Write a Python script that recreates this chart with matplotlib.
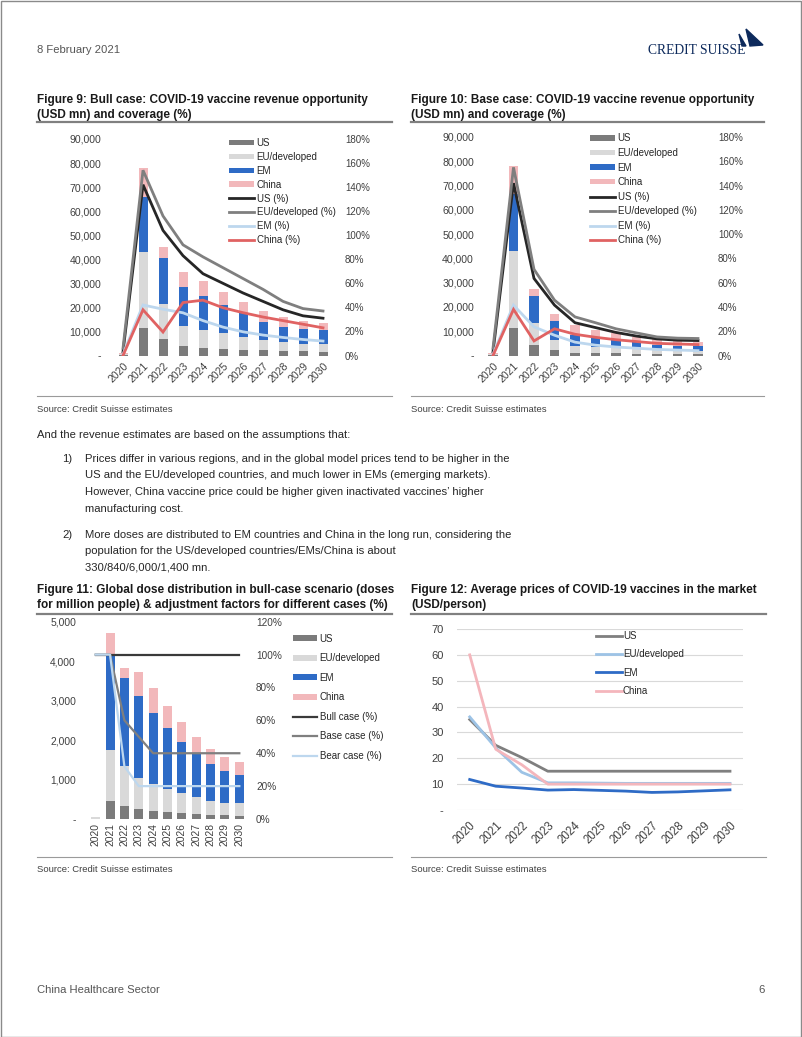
import numpy as np
import matplotlib
matplotlib.use("Agg")
import matplotlib.pyplot as plt
from matplotlib import font_manager
from matplotlib.patches import Rectangle, Polygon
from matplotlib.lines import Line2D
from matplotlib.ticker import FuncFormatter, MultipleLocator

# === DATOS ===
years = [str(y) for y in range(2020, 2031)]
regions = ["US", "EU/developed", "EM", "China"]

# Figure 9: bull case, USD mn
bull_us = [200, 11400, 6900, 4000, 3300, 2800, 2300, 2100, 2000, 1700, 1500]
bull_eu = [300, 31800, 14600, 8200, 7200, 6400, 5200, 4300, 3500, 3100, 3100]
bull_em = [200, 22500, 19200, 16100, 14200, 11900, 10100, 7500, 6400, 6100, 5800]
bull_cn = [300, 12100, 4600, 6300, 6100, 5100, 4500, 4400, 3900, 3500, 3200]
# coverage (%)
bull_us_pct = [3, 142, 104, 83, 68, 60, 52, 45, 38, 33, 31]
bull_eu_pct = [6, 154, 116, 92, 82, 73, 64, 55, 45, 39, 37]
bull_em_pct = [1, 42, 38.5, 35.5, 29, 23.6, 19.7, 17, 15, 13.3, 12]
bull_cn_pct = [0, 38, 19.5, 44, 46, 39.7, 35.6, 32, 29, 26, 23]

# Figure 10: base case, USD mn
base_us = [200, 11200, 4200, 2100, 1200, 1100, 900, 800, 800, 700, 700]
base_eu = [300, 31800, 9000, 4200, 2600, 2200, 2000, 1700, 1400, 1200, 1200]
base_em = [200, 23500, 11300, 7800, 4600, 4100, 3700, 2900, 2200, 2200, 2100]
base_cn = [300, 11500, 2800, 3000, 4000, 3100, 2500, 2300, 2200, 1700, 1500]
base_us_pct = [3, 142, 63.5, 41.5, 27, 23, 19, 16, 13.7, 12.6, 12.3]
base_eu_pct = [6, 155, 71, 45.6, 31.8, 27, 22, 18.6, 15.3, 14.3, 14]
base_em_pct = [1, 41.5, 23.6, 16.7, 11, 8.5, 7, 6, 5, 4.5, 4]
base_cn_pct = [0, 38, 12, 22, 17.5, 15, 13, 11.5, 10, 9.5, 9]

# Figure 11: doses (million people) y factores (%)
dose_us = [5, 456, 329, 262, 211, 186, 152, 127, 110, 93, 84]
dose_eu = [35, 1291, 1004, 784, 684, 573, 506, 422, 337, 312, 313]
dose_em = [5, 2447, 2228, 2059, 1797, 1553, 1300, 1097, 945, 819, 725]
dose_cn = [0, 523, 253, 617, 624, 540, 489, 438, 389, 354, 313]
factor_bull = [100, 100, 100, 100, 100, 100, 100, 100, 100, 100, 100]
factor_base = [100, 100, 60, 50, 40, 40, 40, 40, 40, 40, 40]
factor_bear = [100, 100, 32, 20, 20, 20, 20, 20, 20, 20, 20]
case_labels = ["Bull case (%)", "Base case (%)", "Bear case (%)"]

# Figure 12: precios (USD/person)
price_us = [35, 25, 20.3, 15, 15, 15, 15, 15, 15, 15, 15]
price_eu = [36, 24, 14.6, 10.5, 10.5, 10.4, 10.3, 10.3, 10.3, 10.3, 10.3]
price_em = [11.8, 9.2, 8.5, 7.7, 7.9, 7.6, 7.3, 6.8, 7.0, 7.4, 7.8]
price_cn = [60, 23.5, 17.5, 10, 10, 10, 10, 10, 10, 10, 10]

# === ESTILO ===
C_US, C_EU, C_EM, C_CN = "#7b7b7b", "#d9d9d9", "#2e6bc6", "#f2b8bb"
L_US, L_EU, L_EM, L_CN = "#262626", "#7f7f7f", "#bdd7ee", "#e06262"
TXT = "#404040"

plt.rcParams["font.family"] = ["Liberation Sans", "DejaVu Sans"]
installed = {f.name for f in font_manager.fontManager.ttflist}
if "Liberation Sans Narrow" in installed:
    body_font, body_size = ["Liberation Sans Narrow", "DejaVu Sans"], 9.8
else:
    body_font, body_size = ["Liberation Sans", "DejaVu Sans"], 8.15

W, H = 802, 1037
fig = plt.figure(figsize=(W / 100, H / 100), dpi=100)


def box(x0, y0, x1, y1):
    return [x0 / W, 1 - y1 / H, (x1 - x0) / W, (y1 - y0) / H]


def txt(x, y, s, **kw):
    kw.setdefault("va", "center")
    fig.text(x / W, 1 - y / H, s, **kw)


def rule(x0, x1, y, lw=1.0, color="#808080"):
    fig.add_artist(Line2D([x0 / W, x1 / W], [1 - y / H, 1 - y / H], lw=lw, color=color))


def clean(ax):
    for s in ax.spines.values():
        s.set_visible(False)


thousands = FuncFormatter(lambda v, p: "-" if v == 0 else f"{v:,.0f}")
percent = FuncFormatter(lambda v, p: f"{v:.0f}%")


def revenue_chart(rect, us, eu, em, cn, us_p, eu_p, em_p, cn_p, leg_xy, lpad, rpad, lspace):
    ax = fig.add_axes(box(*rect))
    x = np.arange(len(years))
    bottom = np.zeros(len(years))
    handles = []
    for vals, col, lab in zip([us, eu, em, cn], [C_US, C_EU, C_EM, C_CN], regions):
        b = ax.bar(x, vals, 0.45, bottom=bottom, color=col, label=lab)
        handles.append(b)
        bottom += np.array(vals)
    ax.set_xlim(-0.5, len(years) - 0.5)
    ax.set_ylim(0, 90000)
    ax.yaxis.set_major_locator(MultipleLocator(10000))
    ax.yaxis.set_major_formatter(thousands)
    ax.set_xticks(x)
    ax.set_xticklabels(years, rotation=45, ha="right", va="top", rotation_mode="anchor")
    ax.tick_params(axis="y", length=0, labelsize=7.6, labelcolor=TXT, pad=lpad)
    ax.tick_params(axis="x", length=0, labelsize=7.6, labelcolor=TXT, pad=4)
    clean(ax)

    ax2 = ax.twinx()
    for vals, col, lab in zip([us_p, eu_p, em_p, cn_p], [L_US, L_EU, L_EM, L_CN], regions):
        ln, = ax2.plot(x, vals, color=col, lw=2.0, label=lab + " (%)", solid_joinstyle="miter")
        handles.append(ln)
    ax2.set_ylim(0, 180)
    ax2.yaxis.set_major_locator(MultipleLocator(20))
    ax2.yaxis.set_major_formatter(percent)
    ax2.tick_params(axis="y", length=0, labelsize=7, labelcolor=TXT, pad=rpad)
    clean(ax2)

    ax2.legend(handles=handles, loc="upper left", bbox_to_anchor=(leg_xy[0] / W, 1 - leg_xy[1] / H),
               bbox_transform=fig.transFigure, frameon=False, fontsize=7, borderpad=0,
               borderaxespad=0, handlelength=2.6, handleheight=0.5, handletextpad=0.25,
               labelspacing=lspace, labelcolor="#262626")
    return ax


# === MARCO Y ENCABEZADO ===
fig.add_artist(Rectangle((0.5 / W, 0.5 / H), 1 - 1.5 / W, 1 - 1.5 / H, transform=fig.transFigure,
                         fill=False, edgecolor="#8a8a8a", lw=1.0))
txt(37, 50, "8 February 2021", family=body_font, fontsize=body_size, color="#555555")
txt(648, 50, "CREDIT SUISSE", family=["Liberation Serif", "DejaVu Serif"], fontsize=9.8,
    color="#0d2a5c")
fig.add_artist(Polygon([(746 / W, 1 - 29 / H), (763 / W, 1 - 45 / H), (750 / W, 1 - 46 / H)],
                       closed=True, transform=fig.transFigure, color="#0d2a5c"))
fig.add_artist(Polygon([(739 / W, 1 - 34 / H), (746 / W, 1 - 46 / H), (742 / W, 1 - 46 / H)],
                       closed=True, transform=fig.transFigure, color="#0d2a5c"))

# === FIGURA 9 y 10 ===
title_kw = dict(fontsize=8.45, fontweight="bold", color="#1a1a1a")
txt(37, 100, "Figure 9: Bull case: COVID-19 vaccine revenue opportunity", **title_kw)
txt(37, 115, "(USD mn) and coverage (%)", **title_kw)
rule(37, 392, 122, lw=1.6)
txt(411, 100, "Figure 10: Base case: COVID-19 vaccine revenue opportunity", **title_kw)
txt(411, 115, "(USD mn) and coverage (%)", **title_kw)
rule(411, 764, 122, lw=1.6)

revenue_chart((113, 139, 333, 355.5), bull_us, bull_eu, bull_em, bull_cn,
              bull_us_pct, bull_eu_pct, bull_em_pct, bull_cn_pct, (229, 138), 8.6, 8.6, 0.40)
revenue_chart((482.75, 137, 708.25, 355.5), base_us, base_eu, base_em, base_cn,
              base_us_pct, base_eu_pct, base_em_pct, base_cn_pct, (590, 133.4), 6.3, 7.0, 0.47)

src_kw = dict(fontsize=6.8, color="#404040")
rule(37, 392, 396, lw=0.8, color="#9a9a9a")
txt(37, 409, "Source: Credit Suisse estimates", **src_kw)
rule(411, 764, 396, lw=0.8, color="#9a9a9a")
txt(411, 409, "Source: Credit Suisse estimates", **src_kw)

# === TEXTO ===
body_kw = dict(family=body_font, fontsize=body_size, color="#262626")
txt(37, 435, "And the revenue estimates are based on the assumptions that:", **body_kw)
txt(62, 459, "1)", **body_kw)
txt(85, 459, "Prices differ in various regions, and in the global model prices tend to be higher in the", **body_kw)
txt(85, 475.5, "US and the EU/developed countries, and much lower in EMs (emerging markets).", **body_kw)
txt(85, 492, "However, China vaccine price could be higher given inactivated vaccines\u2019 higher", **body_kw)
txt(85, 508.5, "manufacturing cost.", **body_kw)
txt(62, 535, "2)", **body_kw)
txt(85, 535, "More doses are distributed to EM countries and China in the long run, considering the", **body_kw)
txt(85, 551.5, "population for the US/developed countries/EMs/China is about", **body_kw)
txt(85, 568, "330/840/6,000/1,400 mn.", **body_kw)

# === FIGURA 11 ===
txt(37, 590, "Figure 11: Global dose distribution in bull-case scenario (doses", **title_kw)
txt(37, 605, "for million people) & adjustment factors for different cases (%)", **title_kw)
rule(37, 392, 613.5, lw=1.6)

ax = fig.add_axes(box(88.5, 621.7, 246.5, 819))
x = np.arange(len(years))
bottom = np.zeros(len(years))
handles = []
for vals, col, lab in zip([dose_us, dose_eu, dose_em, dose_cn], [C_US, C_EU, C_EM, C_CN], regions):
    handles.append(ax.bar(x, vals, 0.63, bottom=bottom, color=col, label=lab))
    bottom += np.array(vals)
ax.set_xlim(-0.5, len(years) - 0.5)
ax.set_ylim(0, 5000)
ax.yaxis.set_major_locator(MultipleLocator(1000))
ax.yaxis.set_major_formatter(thousands)
ax.set_xticks(x)
ax.set_xticklabels(years, rotation=90, ha="center", va="top")
ax.tick_params(axis="y", length=0, labelsize=7.4, labelcolor=TXT, pad=9)
ax.tick_params(axis="x", length=0, labelsize=7.4, labelcolor=TXT, pad=3)
clean(ax)
ax2 = ax.twinx()
for vals, col, lab in zip([factor_bull, factor_base, factor_bear], ["#3a3a3a", "#7f7f7f", "#bdd7ee"], case_labels):
    ln, = ax2.plot(x, vals, color=col, lw=1.6, label=lab)
    handles.append(ln)
ax2.set_ylim(0, 120)
ax2.yaxis.set_major_locator(MultipleLocator(20))
ax2.yaxis.set_major_formatter(percent)
ax2.tick_params(axis="y", length=0, labelsize=7.2, labelcolor=TXT, pad=6.8)
clean(ax2)
ax2.legend(handles=handles, loc="upper left", bbox_to_anchor=(293 / W, 1 - 633.7 / H),
           bbox_transform=fig.transFigure, frameon=False, fontsize=7, borderpad=0,
           borderaxespad=0, handlelength=2.5, handleheight=0.55, handletextpad=0.25,
           labelspacing=0.98, labelcolor="#262626")

rule(37, 392, 857, lw=0.8, color="#9a9a9a")
txt(37, 870, "Source: Credit Suisse estimates", **src_kw)

# === FIGURA 12 ===
txt(411, 590, "Figure 12: Average prices of COVID-19 vaccines in the market", **title_kw)
txt(411, 605, "(USD/person)", **title_kw)
rule(411, 766, 613.5, lw=1.6)

ax = fig.add_axes(box(456.7, 629, 743, 810))
for vals, col, lab in zip([price_us, price_eu, price_em, price_cn], ["#7f7f7f", "#9dc3e6", C_EM, "#f4b6bc"], regions):
    ax.plot(x, vals, color=col, lw=2.0, label=lab)
ax.set_xlim(-0.5, len(years) - 0.5)
ax.set_ylim(0, 70)
ax.yaxis.set_major_locator(MultipleLocator(10))
ax.yaxis.set_major_formatter(FuncFormatter(lambda v, p: "-" if v == 0 else f"{v:.0f}"))
ax.grid(axis="y", color="#d9d9d9", lw=0.8)
ax.set_axisbelow(True)
ax.set_xticks(x)
ax.set_xticklabels(years, rotation=45, ha="right", va="top", rotation_mode="anchor")
ax.tick_params(axis="y", length=0, labelsize=8, labelcolor=TXT, pad=9.5)
ax.tick_params(axis="x", length=0, labelsize=8.3, labelcolor=TXT, pad=7)
clean(ax)
ax.legend(loc="upper left", bbox_to_anchor=(595.7 / W, 1 - 631 / H), bbox_transform=fig.transFigure,
          frameon=False, fontsize=7, borderpad=0, borderaxespad=0, handlelength=2.7,
          handletextpad=0.1, labelspacing=0.86, labelcolor="#262626")

rule(411, 766, 857, lw=0.8, color="#9a9a9a")
txt(411, 870, "Source: Credit Suisse estimates", **src_kw)

# === PIE DE PAGINA ===
txt(37, 990, "China Healthcare Sector", family=body_font, fontsize=body_size, color="#555555")
txt(765, 990, "6", family=body_font, fontsize=body_size, color="#555555", ha="right")

fig.savefig("out.png", dpi=100)
